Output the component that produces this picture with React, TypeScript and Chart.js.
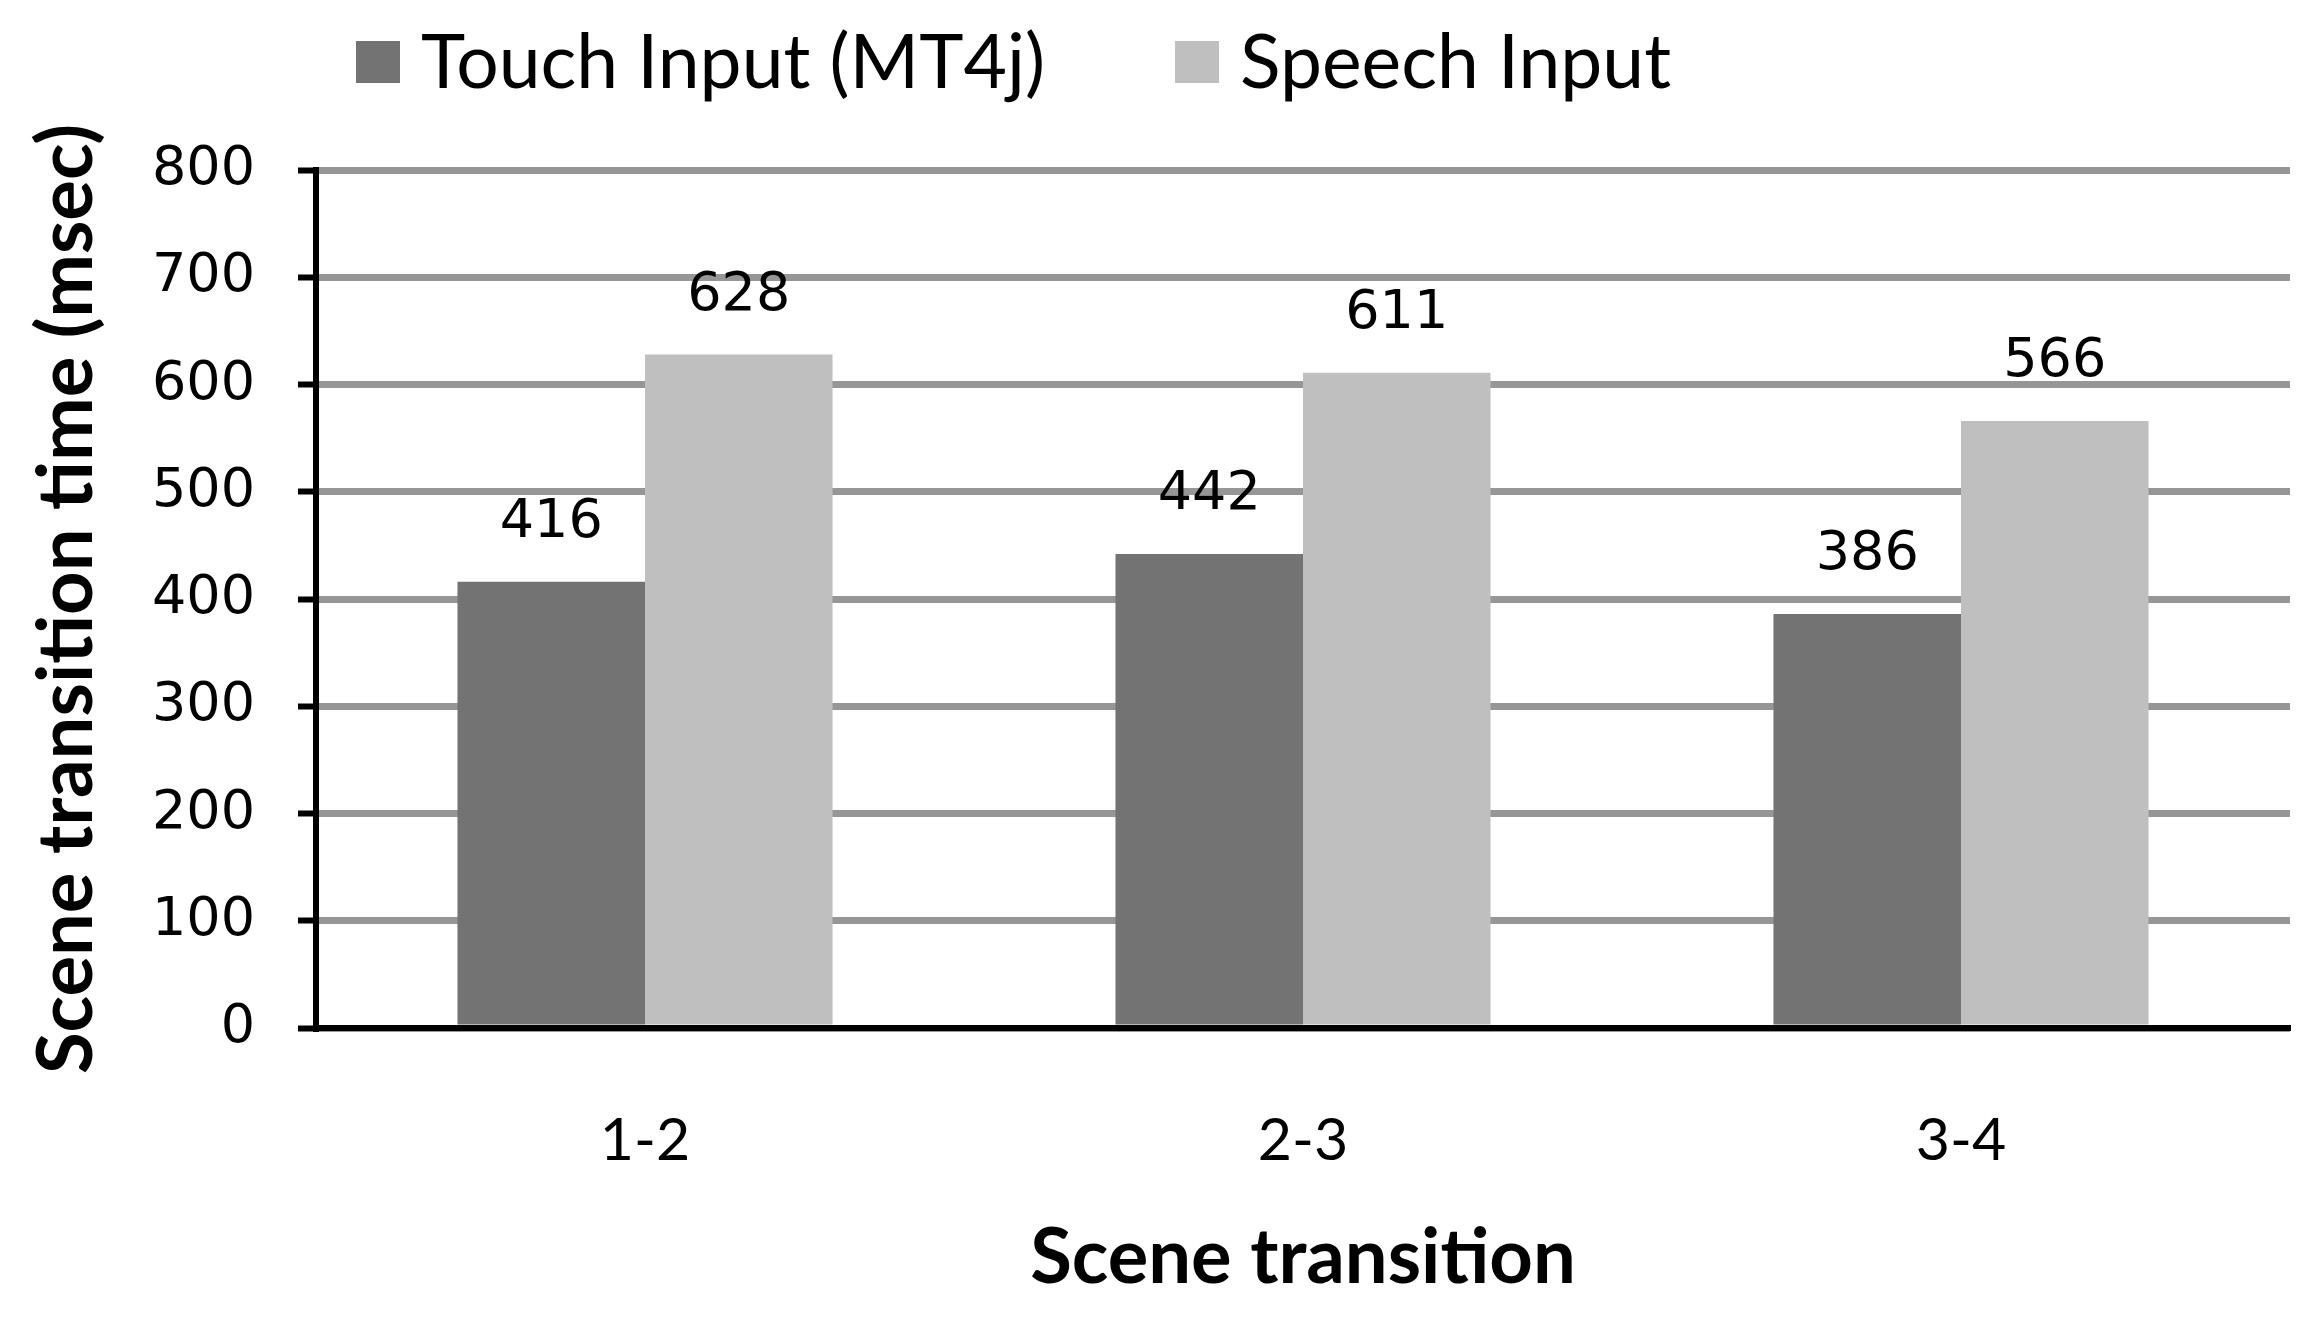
import React, { useEffect, useRef } from 'react';
import { Chart, registerables } from 'chart.js';

Chart.register(...registerables);

const categories = ['1-2', '2-3', '3-4'];
const touchValues = [416, 442, 386];
const speechValues = [628, 611, 566];
const seriesLabels = ['Touch Input (MT4j)', 'Speech Input'];
const seriesColors = ['#737373', '#BFBFBF'];
const yTicks = [0, 100, 200, 300, 400, 500, 600, 700, 800];
const xTitle = 'Scene transition';
const yTitle = 'Scene transition time (msec)';

const CONDENSED = 'Lato, "Noto Sans", sans-serif';
const WIDE = '"DejaVu Sans", Verdana, sans-serif';

const legendPlugin = {
  id: 'customLegend',
  afterDraw(chart: any) {
    const ctx = chart.ctx;
    ctx.save();
    ctx.font = `75px ${CONDENSED}`;
    ctx.textBaseline = 'middle';
    ctx.textAlign = 'left';
    let x = 356;
    chart.data.datasets.forEach((ds: any) => {
      ctx.fillStyle = ds.backgroundColor;
      ctx.fillRect(x, 41, 44, 42);
      ctx.fillStyle = '#000';
      ctx.fillText(ds.label, x + 65, 64);
      x += 65 + ctx.measureText(ds.label).width + 130;
    });
    ctx.restore();
  },
};

const valueLabelPlugin = {
  id: 'valueLabels',
  afterDatasetsDraw(chart: any) {
    const ctx = chart.ctx;
    ctx.save();
    ctx.font = `54px ${WIDE}`;
    ctx.fillStyle = '#000';
    ctx.textAlign = 'center';
    ctx.textBaseline = 'middle';
    chart.data.datasets.forEach((ds: any, i: number) => {
      const meta = chart.getDatasetMeta(i);
      meta.data.forEach((el: any, j: number) => {
        ctx.fillText(String(ds.data[j]), el.x, el.y - 59);
      });
    });
    ctx.restore();
  },
};

export default function App() {
  const ref = useRef<HTMLCanvasElement | null>(null);
  useEffect(() => {
    if (!ref.current) return;
    const chart = new Chart(ref.current, {
      type: 'bar',
      data: {
        labels: categories,
        datasets: [
          { label: seriesLabels[0], data: touchValues, backgroundColor: seriesColors[0] },
          { label: seriesLabels[1], data: speechValues, backgroundColor: seriesColors[1] },
        ],
      },
      options: {
        animation: false,
        responsive: true,
        maintainAspectRatio: false,
        layout: { padding: { top: 170, right: 34, left: 0, bottom: 0 } },
        plugins: { legend: { display: false }, tooltip: { enabled: false } },
        datasets: { bar: { categoryPercentage: 0.57, barPercentage: 1.0 } },
        scales: {
          x: {
            grid: { display: false, drawTicks: false, tickLength: 0 },
            border: { display: true, color: '#000', width: 6, z: 1 },
            ticks: { color: '#000', padding: 78, font: { family: CONDENSED, size: 59 } },
            title: {
              display: true,
              text: xTitle,
              color: '#000',
              font: { family: CONDENSED, size: 76, weight: 'bold' },
              padding: { top: 0, bottom: 22 },
            },
            afterFit: (s: any) => { s.height = 298; },
          },
          y: {
            min: 0,
            max: 800,
            afterBuildTicks: (s: any) => { s.ticks = yTicks.map((v) => ({ value: v })); },
            grid: { color: '#969696', lineWidth: 7, tickColor: '#000', tickLength: 18, tickWidth: 6, drawTicks: true },
            border: { display: true, color: '#000', width: 6, z: 1 },
            ticks: { color: '#000', padding: 43, font: { family: WIDE, size: 54 } },
            title: {
              display: true,
              text: yTitle,
              color: '#000',
              font: { family: CONDENSED, size: 76, weight: 'bold' },
              padding: { top: 22, bottom: 0 },
            },
            afterFit: (s: any) => { s.width = 316; },
          },
        },
      },
      plugins: [legendPlugin, valueLabelPlugin],
    });
    return () => chart.destroy();
  }, []);
  return (
    <div style={{ position: 'fixed', left: 0, top: 0, width: 2324, height: 1326, background: '#fff' }}>
      <canvas ref={ref} />
    </div>
  );
}
